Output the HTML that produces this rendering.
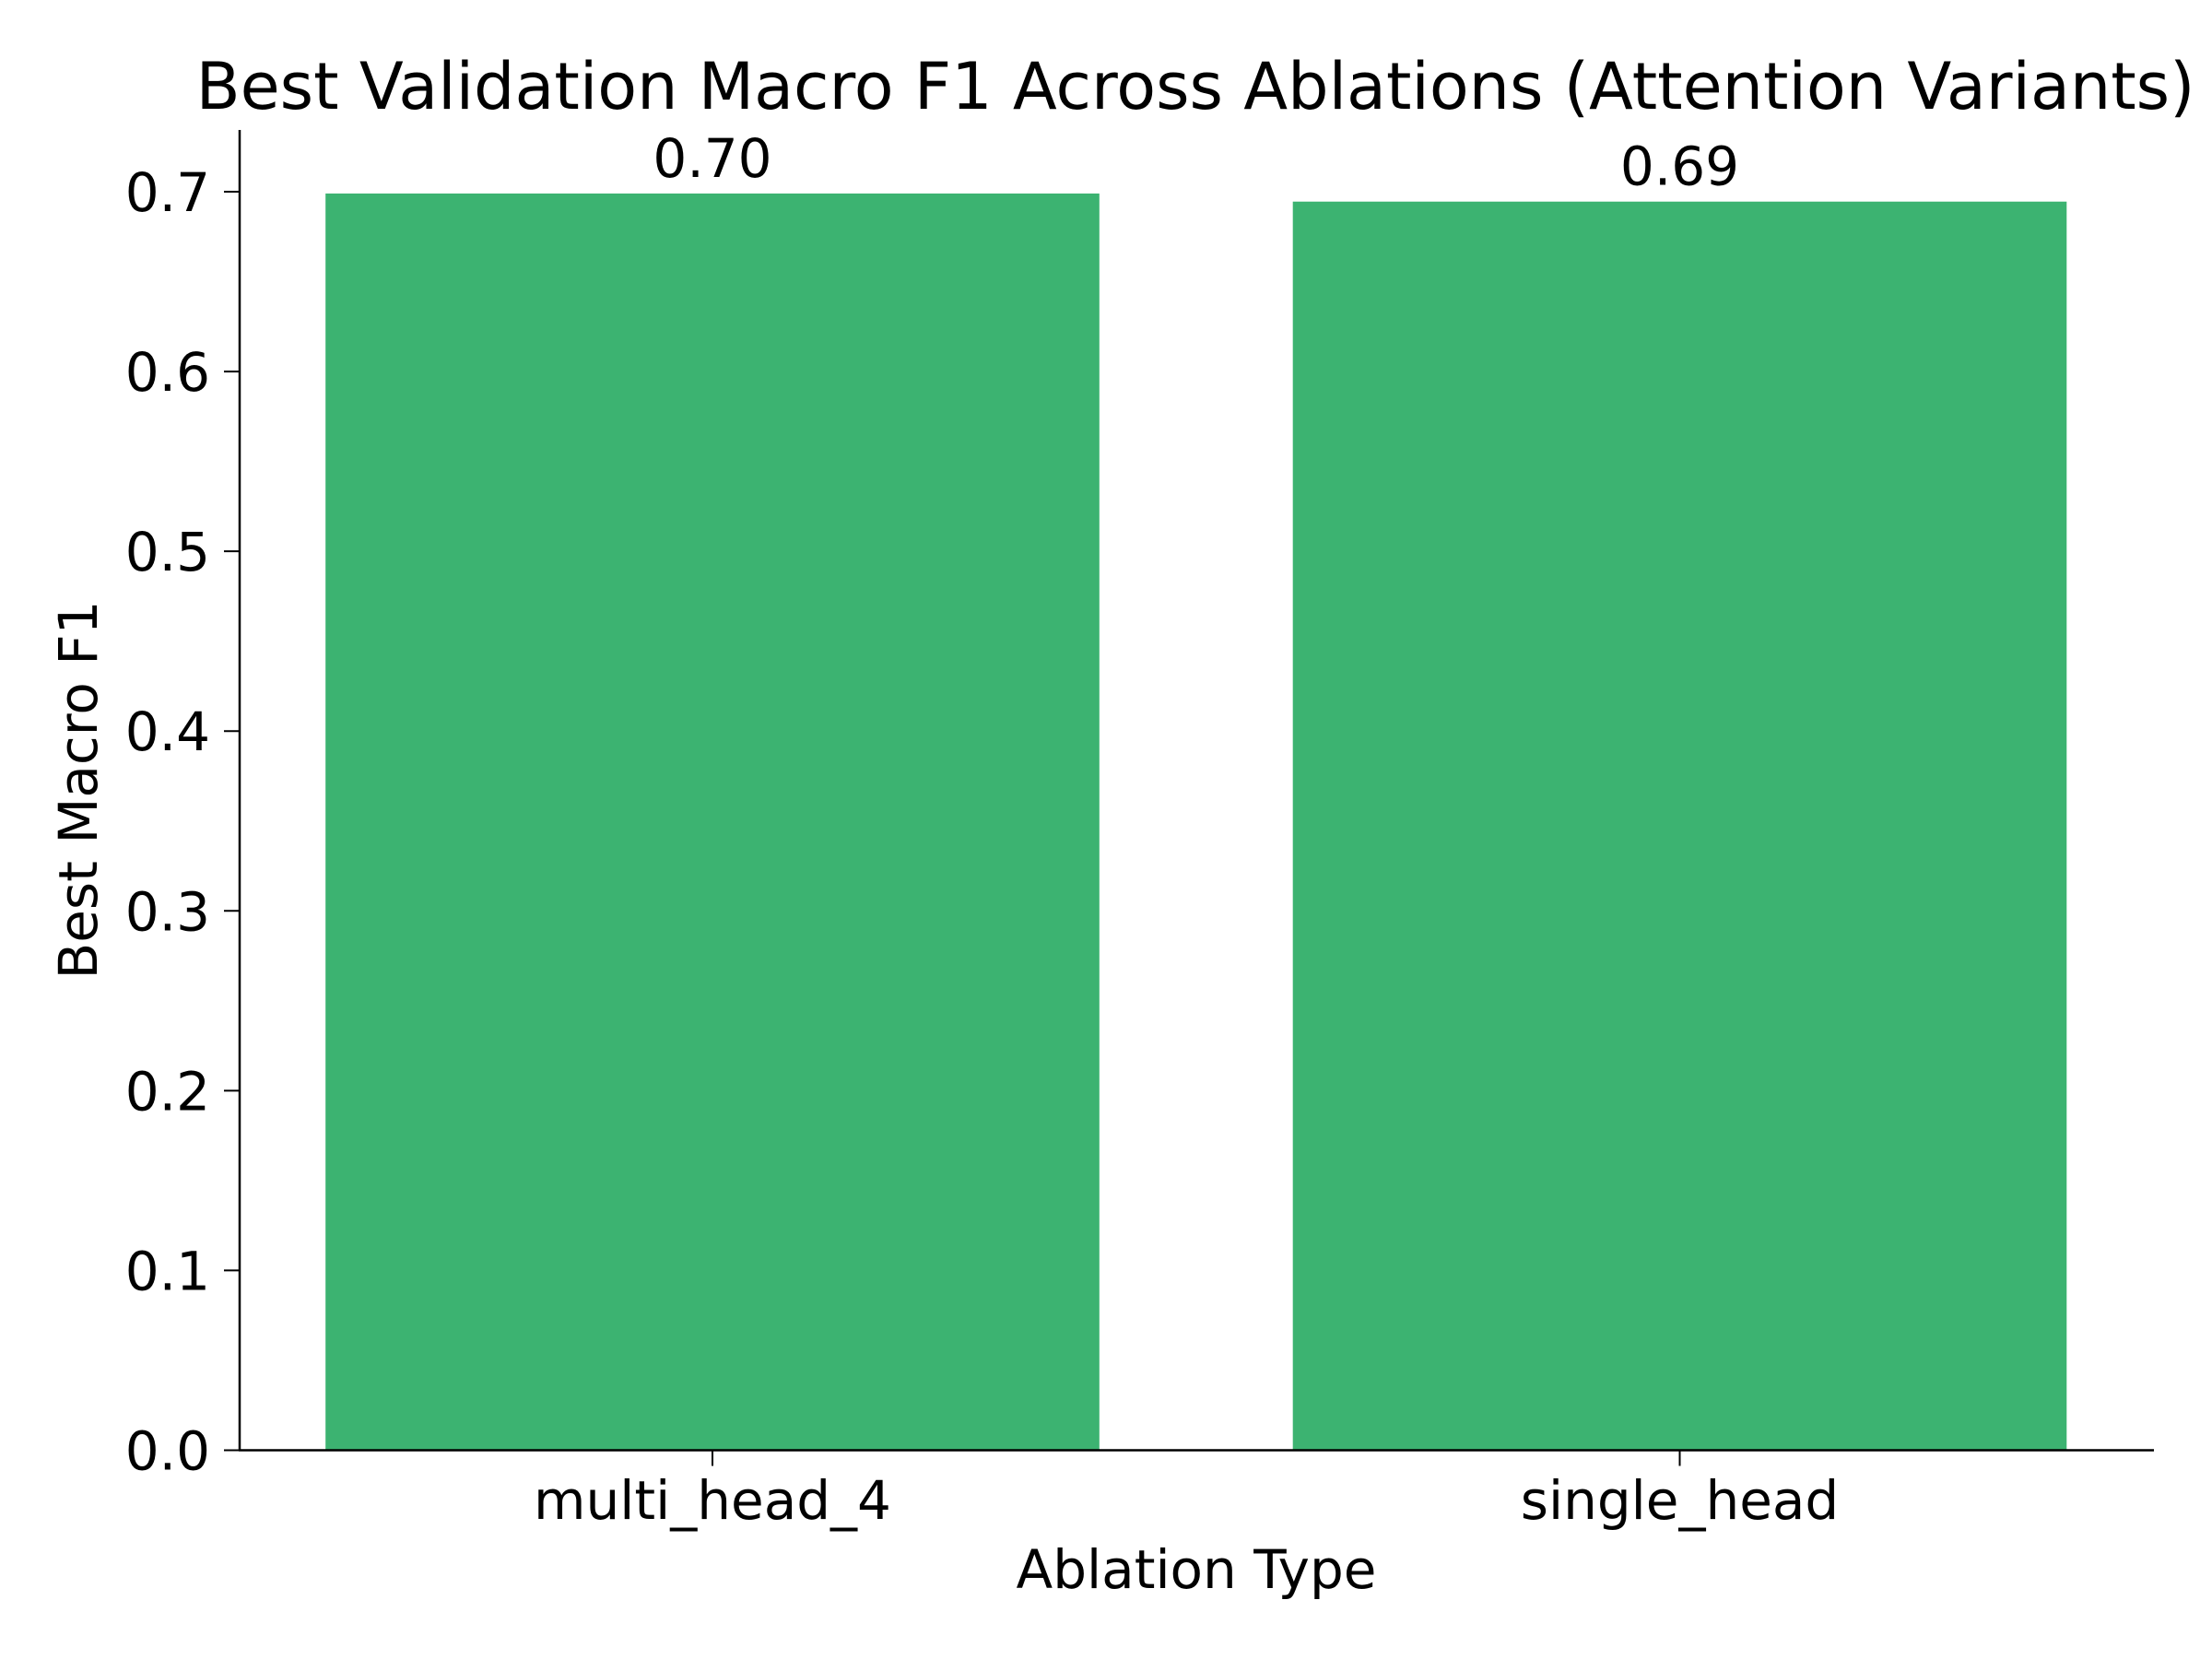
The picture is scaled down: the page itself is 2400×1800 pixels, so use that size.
<!DOCTYPE html>
<html><head><meta charset="utf-8"><style>html,body{margin:0;padding:0;background:#fff}svg{display:block}text{font-family:"DejaVu Sans","Liberation Sans",sans-serif;fill:#000}</style></head>
<body>
<svg id="chart" width="2400" height="1800" viewBox="0 0 2400 1800" xmlns="http://www.w3.org/2000/svg">
<rect width="2400" height="1800" fill="#fff"/>
<text x="1297" y="118" font-size="70" text-anchor="middle">Best Validation Macro F1 Across Ablations (Attention Variants)</text>
<g id="plot"></g>
<text x="1298" y="1723" font-size="58" text-anchor="middle">Ablation Type</text>
<text transform="translate(105,857) rotate(-90)" font-size="58" text-anchor="middle">Best Macro F1</text>
</svg>
<script>
const categories = ["multi_head_4", "single_head"];
const values = [0.699, 0.6945];
const valueLabels = ["0.70", "0.69"];
const yTicks = [0, 0.1, 0.2, 0.3, 0.4, 0.5, 0.6, 0.7];
const yTickLabels = ["0.0", "0.1", "0.2", "0.3", "0.4", "0.5", "0.6", "0.7"];

const NS = "http://www.w3.org/2000/svg";
const L = 260, R = 2337, T = 141, B = 1573.5;
const yScale = v => B - v * 1950.7;
const xScale = i => 773 + i * 1049.5;
const barW = 0.8 * 1049.5;
const g = document.getElementById('plot');
function mk(tag, attrs) {
  const e = document.createElementNS(NS, tag);
  for (const k in attrs) e.setAttribute(k, attrs[k]);
  g.appendChild(e);
  return e;
}
categories.forEach((c, i) => {
  const x = xScale(i), y = yScale(values[i]);
  const bar = mk('rect', {x: x - barW / 2, y: y, width: barW, height: B - y, fill: '#3cb371'});
  
  
  const lbl = mk('text', {x: x, y: y - 18, 'font-size': 58, 'text-anchor': 'middle'});
  lbl.textContent = valueLabels[i];
  
  
  const tk = mk('line', {x1: x, x2: x, y1: B, y2: B + 17, stroke: '#000', 'stroke-width': 2});
  
  
  const tl = mk('text', {x: x, y: 1648, 'font-size': 58, 'text-anchor': 'middle'});
  tl.textContent = c;
  
  
});
yTicks.forEach((v, i) => {
  const y = yScale(v);
  const tk = mk('line', {x1: L - 17, x2: L, y1: y, y2: y, stroke: '#000', 'stroke-width': 2});
  
  
  const tl = mk('text', {x: 228, y: y + 21, 'font-size': 58, 'text-anchor': 'end'});
  tl.textContent = yTickLabels[i];
  
  
});
const ya = mk('line', {x1: L, x2: L, y1: T, y2: B + 1, stroke: '#000', 'stroke-width': 2.5});


const xa = mk('line', {x1: L - 1, x2: R, y1: B, y2: B, stroke: '#000', 'stroke-width': 2.5});


</script>
</body></html>
